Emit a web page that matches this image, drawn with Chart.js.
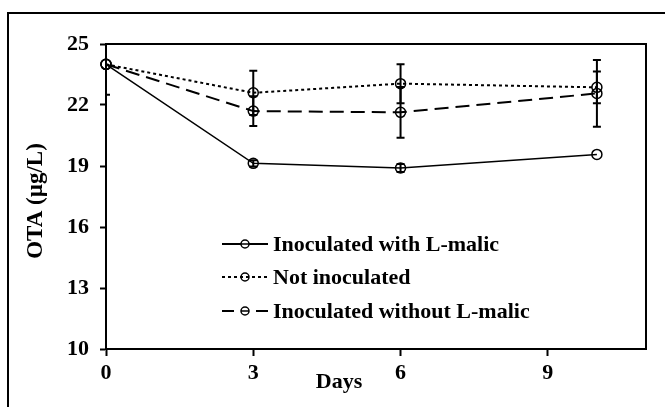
<!DOCTYPE html>
<html lang="en">
<head>
    <meta charset="UTF-8">
    <title>OTA over days</title>
    <script src="https://cdn.jsdelivr.net/npm/chart.js@4.4.0/dist/chart.umd.min.js"></script>
    <style>
        body { margin: 0; background: #fff; }
        canvas { display: block; }
    </style>
</head>
<body>
    <canvas id="otaChart" width="665" height="407"></canvas>

    <script>
        // Data
        const days = [0, 3, 6, 10];
        const xTicks = [0, 3, 6, 9];
        const yTicks = [10, 13, 16, 19, 22, 25];

        const withMalic = [24.0, 19.13, 18.9, 19.57];
        const withMalicErr = [0, 0.15, 0.2, 0];
        const notInoculated = [24.0, 22.6, 23.05, 22.87];
        const notInoculatedErr = [0, 1.09, 0.96, 0.78];
        const withoutMalic = [24.0, 21.7, 21.64, 22.57];
        const withoutMalicErr = [1.5, 0.73, 1.25, 1.64];

        const serif = '"Liberation Serif", "Times New Roman", serif';
        const boldFont = { family: serif, size: 22, weight: 'bold' };

        const toPoints = vals => vals.map((v, i) => ({ x: days[i], y: v }));

        const series = [
            { label: 'Inoculated with L-malic', data: withMalic, err: withMalicErr, dash: [] },
            { label: 'Not inoculated', data: notInoculated, err: notInoculatedErr, dash: [3, 3] },
            { label: 'Inoculated without L-malic', data: withoutMalic, err: withoutMalicErr, dash: [14, 7] }
        ];

        // error bars, box, titles and the in-plot legend
        const decor = {
            id: 'decor',
            beforeDraw(chart) {
                const c = chart.ctx;
                c.save();
                c.fillStyle = '#fff';
                c.fillRect(0, 0, chart.width, chart.height);
                c.strokeStyle = '#000';
                c.lineWidth = 2;
                c.beginPath();
                c.moveTo(8, chart.height);
                c.lineTo(8, 13);
                c.lineTo(chart.width, 13);
                c.stroke();
                c.restore();
            },
            beforeDatasetsDraw(chart) {
                const c = chart.ctx;
                const xs = chart.scales.x, ys = chart.scales.y;
                const a = chart.chartArea;
                c.save();
                c.beginPath();
                c.rect(a.left, a.top, a.right - a.left + 10, a.bottom - a.top);
                c.clip();
                c.strokeStyle = '#000';
                c.lineWidth = 2;
                series.forEach(s => {
                    s.data.forEach((v, i) => {
                        const e = s.err[i];
                        if (!e) return;
                        const x = xs.getPixelForValue(days[i]);
                        const y1 = ys.getPixelForValue(v + e);
                        const y2 = ys.getPixelForValue(v - e);
                        c.beginPath();
                        c.moveTo(x, y1); c.lineTo(x, y2);
                        c.moveTo(x - 4, y1); c.lineTo(x + 4, y1);
                        c.moveTo(x - 4, y2); c.lineTo(x + 4, y2);
                        c.stroke();
                    });
                });
                c.restore();
            },
            afterDraw(chart) {
                const c = chart.ctx;
                const a = chart.chartArea;
                c.save();
                // top and right of plot box
                c.strokeStyle = '#000';
                c.lineWidth = 2;
                c.beginPath();
                c.moveTo(a.left, a.top);
                c.lineTo(a.right, a.top);
                c.lineTo(a.right, a.bottom);
                c.stroke();

                c.fillStyle = '#000';
                c.font = 'bold 22px ' + serif;
                c.textBaseline = 'middle';
                c.textAlign = 'center';
                c.fillText('Days', 339, 382);

                c.save();
                c.translate(36, 201);
                c.rotate(-Math.PI / 2);
                c.font = 'bold 23px ' + serif;
                c.fillText('OTA (\u00b5g/L)', 0, 0);
                c.restore();

                // legend
                const rows = [244, 277, 311];
                c.textAlign = 'left';
                series.forEach((s, i) => {
                    const y = rows[i];
                    c.lineWidth = 2;
                    c.beginPath();
                    if (i === 2) {
                        c.moveTo(222, y); c.lineTo(234, y);
                        c.moveTo(256, y); c.lineTo(268, y);
                    } else {
                        c.setLineDash(s.dash);
                        c.moveTo(222, y); c.lineTo(268, y);
                    }
                    c.stroke();
                    c.setLineDash([]);
                    c.lineWidth = 1.5;
                    c.beginPath();
                    c.arc(245, y, 4, 0, Math.PI * 2);
                    c.fillStyle = '#fff';
                    if (i !== 1) c.fill();
                    c.stroke();
                    if (i !== 1) {
                        c.beginPath();
                        c.moveTo(241, y); c.lineTo(249, y);
                        c.stroke();
                    }
                    c.fillStyle = '#000';
                    c.fillText(s.label, 273, y + 1);
                });
                c.restore();
            }
        };

        const ctx = document.getElementById('otaChart').getContext('2d');
        new Chart(ctx, {
            type: 'line',
            data: {
                datasets: series.map(s => ({
                    label: s.label,
                    data: toPoints(s.data),
                    borderColor: '#000',
                    borderWidth: s.dash.length ? 2 : 1.5,
                    borderDash: s.dash,
                    pointRadius: 5,
                    pointBorderWidth: 1.5,
                    pointBorderColor: '#000',
                    pointBackgroundColor: 'rgba(0,0,0,0)',
                    tension: 0,
                    clip: false
                }))
            },
            options: {
                responsive: false,
                animation: false,
                layout: { padding: { top: 44, right: 19, left: 0, bottom: 0 } },
                plugins: {
                    legend: { display: false },
                    tooltip: { enabled: false }
                },
                scales: {
                    x: {
                        type: 'linear',
                        min: 0,
                        max: 11,
                        afterBuildTicks: ax => { ax.ticks = xTicks.map(v => ({ value: v })); },
                        afterFit: ax => { ax.height = 58; },
                        ticks: { font: boldFont, color: '#000', padding: 4, maxRotation: 0 },
                        grid: { drawOnChartArea: false, tickLength: 7, tickWidth: 2, color: '#000' },
                        border: { color: '#000', width: 2 }
                    },
                    y: {
                        min: 10,
                        max: 25,
                        afterBuildTicks: ax => { ax.ticks = yTicks.map(v => ({ value: v })); },
                        afterFit: ax => { ax.width = 106; },
                        ticks: { font: boldFont, color: '#000', padding: 11 },
                        grid: { drawOnChartArea: false, tickLength: 6, tickWidth: 2, color: '#000' },
                        border: { color: '#000', width: 2 }
                    }
                }
            },
            plugins: [decor]
        });
    </script>
</body>
</html>
